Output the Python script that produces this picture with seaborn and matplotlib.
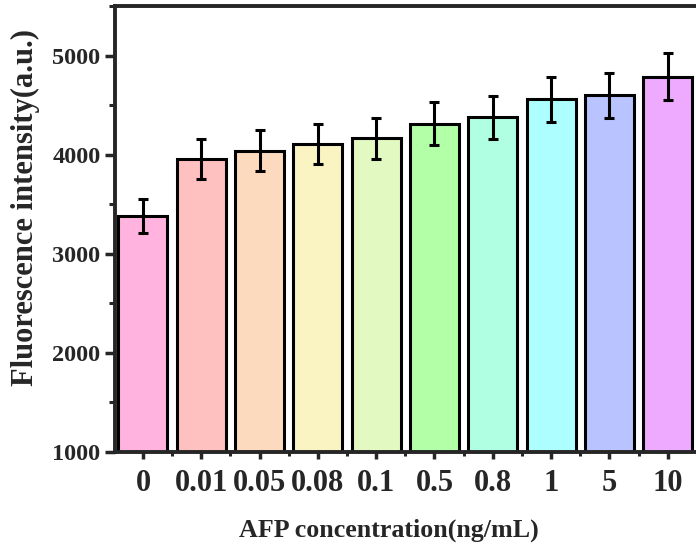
import numpy as np
import pandas as pd
import matplotlib
matplotlib.use('Agg')
import matplotlib.pyplot as plt
import seaborn as sns
from matplotlib.ticker import MultipleLocator, FixedLocator

# 数据：AFP 浓度 vs 荧光强度
concentrations = ['0', '0.01', '0.05', '0.08', '0.1', '0.5', '0.8', '1', '5', '10']
intensity = [3377, 3957, 4041, 4108, 4165, 4310, 4377, 4558, 4598, 4786]
errors = [172, 200, 208, 202, 206, 217, 218, 226, 230, 236]
bar_colors = ['#FFB3DE', '#FFC0C0', '#FCDABE', '#F9F4C2', '#E2F9C2',
              '#B2FFA8', '#B0FFE2', '#ADFFFF', '#B9C3FF', '#EDAAFF']

sns.set_style('ticks')
plt.rcParams['font.family'] = ['Liberation Serif', 'DejaVu Serif']
plt.rcParams['font.weight'] = 'bold'

df = pd.DataFrame({'conc': concentrations, 'val': intensity})

fig = plt.figure(figsize=(6.96, 5.46), dpi=100)
# 右边框超出图像，与原图一致
ax = fig.add_axes([115 / 696, 94 / 546, 583 / 696, 446 / 546])

sns.barplot(data=df, x='conc', y='val', hue='conc', palette=bar_colors,
            legend=False, width=0.84, edgecolor='black', linewidth=2.2,
            saturation=1, ax=ax)

# 误差棒
xs = [p.get_x() + p.get_width() / 2 for p in ax.patches]
ax.errorbar(xs, intensity, yerr=errors, fmt='none', ecolor='black',
            elinewidth=2.2, capsize=3.8, capthick=2.2)

ax.set_xlim(-0.48, 9.52)
ax.set_ylim(1000, 5500)
ax.set_yticks([1000, 2000, 3000, 4000, 5000])
ax.yaxis.set_minor_locator(MultipleLocator(500))
ax.xaxis.set_minor_locator(FixedLocator(np.arange(-0.5, 10, 1.0)))

for s in ax.spines.values():
    s.set_linewidth(2.8)
    s.set_visible(True)

ax.tick_params(axis='y', which='major', direction='out', length=7, width=2.5,
               labelsize=17.5)
ax.tick_params(axis='y', which='minor', direction='out', length=4, width=2.2)
ax.tick_params(axis='x', which='major', direction='out', length=5, width=2.5,
               labelsize=22, pad=7)
ax.tick_params(axis='x', which='minor', direction='out', length=3, width=2.2)

ax.set_xlabel('AFP concentration(ng/mL)', fontsize=18.7, fontweight='bold')
ax.xaxis.set_label_coords(0.47, -0.15)
ax.set_ylabel('Fluorescence intensity(a.u.)', fontsize=22, fontweight='bold')
ax.yaxis.set_label_coords(-0.128, 0.548)

fig.savefig('out.png', dpi=100)
